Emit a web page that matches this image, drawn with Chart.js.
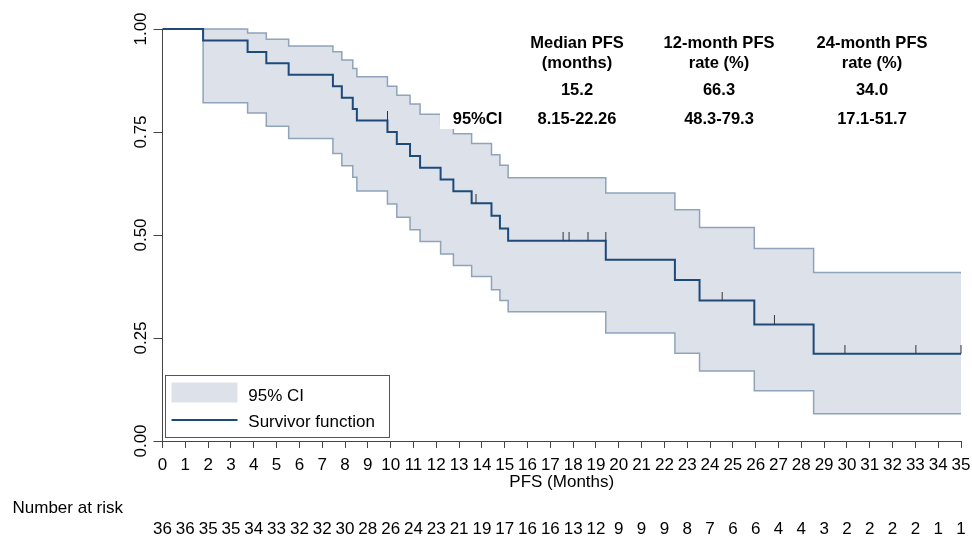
<!DOCTYPE html>
<html>
<head>
<meta charset="utf-8">
<script src="https://cdn.jsdelivr.net/npm/chart.js@4.4.0/dist/chart.umd.min.js"></script>
<style>html,body{margin:0;padding:0;background:#fff}canvas{display:block}</style>
</head>
<body>
<canvas id="c" width="972" height="537"></canvas>
<script>
// ---- data ----
const stepTimes = [0, 1.78, 3.73, 4.55, 5.53, 7.47, 7.86, 8.34, 8.52, 9.86, 10.27, 10.85, 11.29, 12.19, 12.75, 13.55, 14.42, 14.79, 15.15, 19.43, 22.46, 23.54, 25.94, 28.54, 35];
const survival  = [1.000, 0.972, 0.944, 0.917, 0.889, 0.861, 0.833, 0.806, 0.778, 0.750, 0.721, 0.692, 0.663, 0.635, 0.606, 0.577, 0.547, 0.516, 0.486, 0.440, 0.391, 0.341, 0.283, 0.212, 0.212];

const ciTimes = [1.78, 3.73, 4.55, 5.53, 7.47, 7.86, 8.34, 8.52, 9.86, 10.27, 10.85, 11.29, 12.19, 12.75, 13.55, 14.42, 14.79, 15.15, 19.43, 22.46, 23.54, 25.94, 28.54, 35];
const upperCI = [1.000, 0.990, 0.975, 0.959, 0.945, 0.925, 0.904, 0.884, 0.861, 0.839, 0.818, 0.793, 0.769, 0.746, 0.722, 0.695, 0.669, 0.639, 0.602, 0.561, 0.518, 0.467, 0.409, 0.409];
const lowerCI = [0.821, 0.796, 0.764, 0.734, 0.698, 0.668, 0.640, 0.607, 0.575, 0.543, 0.513, 0.484, 0.454, 0.426, 0.399, 0.367, 0.341, 0.314, 0.262, 0.213, 0.170, 0.122, 0.066, 0.066];

const censorTimes = [9.86, 13.74, 17.56, 17.82, 18.65, 19.43, 24.53, 26.82, 29.91, 33.02, 35.0];
const censorSurv  = [0.778, 0.577, 0.486, 0.486, 0.486, 0.486, 0.341, 0.283, 0.212, 0.212, 0.212];

const xTickValues = [0,1,2,3,4,5,6,7,8,9,10,11,12,13,14,15,16,17,18,19,20,21,22,23,24,25,26,27,28,29,30,31,32,33,34,35];
const numberAtRisk = [36,36,35,35,34,33,32,32,30,28,26,24,23,21,19,17,16,16,13,12,9,9,9,8,7,6,6,4,4,3,2,2,2,2,1,1];
const yTickValues = [0, 0.25, 0.5, 0.75, 1];
const yTickLabels = ['0.00', '0.25', '0.50', '0.75', '1.00'];

const tableHeaders = [['Median PFS', '(months)'], ['12-month PFS', 'rate (%)'], ['24-month PFS', 'rate (%)']];
const tableEstimates = ['15.2', '66.3', '34.0'];
const tableCI = ['8.15-22.26', '48.3-79.3', '17.1-51.7'];
const legendLabels = ['95% CI', 'Survivor function'];

// ---- styles ----
const FONT = '"Liberation Sans", Arial, sans-serif';
const mainColor = '#1d4a7a';
const bandFill = '#dde2ea';
const bandLine = '#8fa3ba';
const axisColor = '#444';

const survData = stepTimes.map((t, i) => ({x: t, y: survival[i]}));
const upperData = ciTimes.map((t, i) => ({x: t, y: upperCI[i]}));
const lowerData = [{x: ciTimes[0], y: upperCI[0]}].concat(ciTimes.map((t, i) => ({x: t, y: lowerCI[i]})));
const censorData = censorTimes.map((t, i) => ({x: t, y: censorSurv[i]}));

const tickImg = document.createElement('canvas');
tickImg.width = 3; tickImg.height = 18;
(function(){ const g = tickImg.getContext('2d'); g.fillStyle = '#333'; g.fillRect(1, 0, 1, 9); })();

const overlay = {
  id: 'overlay',
  afterDraw(chart) {
    const ctx = chart.ctx;
    const xs = chart.scales.x, ys = chart.scales.y;
    ctx.save();

    // white box behind the "95%CI" label
    ctx.fillStyle = '#fff';
    ctx.fillRect(440, 103, 76, 26);

    ctx.fillStyle = '#000';
    // y tick labels (rotated)
    ctx.font = '17px ' + FONT;
    ctx.textAlign = 'center';
    ctx.textBaseline = 'alphabetic';
    yTickValues.forEach((v, i) => {
      const py = ys.getPixelForValue(v);
      ctx.save();
      ctx.translate(146, py);
      ctx.rotate(-Math.PI / 2);
      ctx.fillText(yTickLabels[i], 0, 0);
      ctx.restore();
    });

    // x tick labels
    xTickValues.forEach(v => {
      ctx.fillText(String(v), xs.getPixelForValue(v), 469.5);
    });
    // axis title
    ctx.fillText('PFS (Months)', (xs.left + xs.right) / 2, 486.5);

    // number at risk
    ctx.textAlign = 'left';
    ctx.fillText('Number at risk', 12.5, 512.5);
    ctx.textAlign = 'center';
    xTickValues.forEach((v, i) => {
      ctx.fillText(String(numberAtRisk[i]), xs.getPixelForValue(v), 534);
    });

    // summary table
    ctx.font = 'bold 16.5px ' + FONT;
    const colX = [577, 719, 872];
    tableHeaders.forEach((h, i) => {
      ctx.fillText(h[0], colX[i], 48.3);
      ctx.fillText(h[1], colX[i], 67.5);
      ctx.fillText(tableEstimates[i], colX[i], 95);
      ctx.fillText(tableCI[i], colX[i], 124);
    });
    ctx.fillText('95%CI', 477.5, 124);

    // legend
    ctx.fillStyle = '#fff';
    ctx.fillRect(165.5, 375.5, 224, 62);
    ctx.strokeStyle = '#555';
    ctx.lineWidth = 1;
    ctx.strokeRect(165.5, 375.5, 224, 62);
    ctx.fillStyle = bandFill;
    ctx.fillRect(171.5, 382.5, 66, 20);
    ctx.strokeStyle = mainColor;
    ctx.lineWidth = 2;
    ctx.beginPath();
    ctx.moveTo(171.5, 420);
    ctx.lineTo(237.5, 420);
    ctx.stroke();
    ctx.fillStyle = '#000';
    ctx.font = '17px ' + FONT;
    ctx.textAlign = 'left';
    ctx.fillText(legendLabels[0], 248.3, 400.5);
    ctx.fillText(legendLabels[1], 248.3, 426.5);
    ctx.restore();
  }
};

new Chart(document.getElementById('c'), {
  type: 'line',
  data: {
    datasets: [
      {label: 'upper', data: upperData, stepped: true, borderColor: bandLine, borderWidth: 1.5, backgroundColor: bandFill, fill: '+1', pointRadius: 0, clip: false, order: 4},
      {label: 'lower', data: lowerData, stepped: true, borderColor: bandLine, borderWidth: 1.5, fill: false, pointRadius: 0, clip: false, order: 3},
      {label: 'Survivor function', data: survData, stepped: true, borderColor: mainColor, borderWidth: 2, fill: false, pointRadius: 0, clip: false, order: 2},
      {label: 'censored', data: censorData, showLine: false, pointStyle: tickImg, pointRadius: 3, clip: false, order: 1}
    ]
  },
  options: {
    responsive: false,
    animation: false,
    events: [],
    layout: {padding: {left: 0, right: 11, top: 29, bottom: 0}},
    plugins: {legend: {display: false}, tooltip: {enabled: false}},
    scales: {
      x: {
        type: 'linear', min: 0, max: 35,
        ticks: {display: false, stepSize: 1},
        grid: {drawOnChartArea: false, drawTicks: true, tickLength: 7, color: axisColor},
        border: {display: true, color: axisColor, width: 1},
        afterFit: s => { s.height = 96; }
      },
      y: {
        type: 'linear', min: 0, max: 1,
        ticks: {display: false, stepSize: 0.25},
        grid: {drawOnChartArea: false, drawTicks: true, tickLength: 9, color: axisColor},
        border: {display: true, color: axisColor, width: 1},
        afterFit: s => { s.width = 162.5; }
      }
    }
  },
  plugins: [overlay]
});
</script>
</body>
</html>
